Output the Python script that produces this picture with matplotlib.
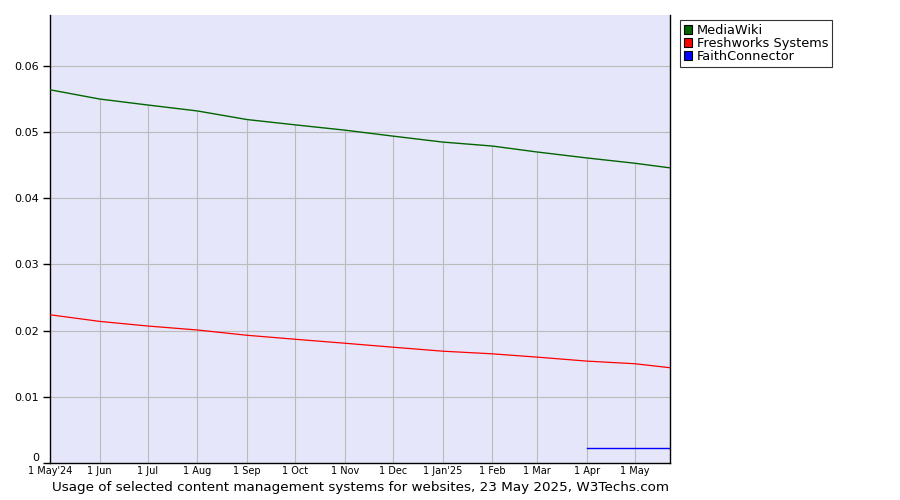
import numpy as np
import pandas as pd
import matplotlib
matplotlib.use("Agg")
import matplotlib.pyplot as plt
import matplotlib.transforms as mtransforms
from matplotlib.patches import Patch

# month starts from May 2024 to May 2025, plus the last day (23 May 2025)
dates = pd.to_datetime(["2024-05-01", "2024-06-01", "2024-07-01", "2024-08-01", "2024-09-01",
                        "2024-10-01", "2024-11-01", "2024-12-01", "2025-01-01", "2025-02-01",
                        "2025-03-01", "2025-04-01", "2025-05-01", "2025-05-23"])
mediawiki = [0.0564, 0.0550, 0.0541, 0.0532, 0.0519, 0.0511, 0.0503,
             0.0494, 0.0485, 0.0479, 0.0470, 0.0461, 0.0453, 0.0446]
freshworks = [0.0224, 0.0214, 0.0207, 0.0201, 0.0193, 0.0187, 0.0181,
              0.0175, 0.0169, 0.0165, 0.0160, 0.0154, 0.0150, 0.0144]
faith_dates = pd.to_datetime(["2025-04-01", "2025-05-01", "2025-05-23"])
faithconnector = [0.0023, 0.0023, 0.0023]

xlabels = ["1 May'24", "1 Jun", "1 Jul", "1 Aug", "1 Sep", "1 Oct", "1 Nov",
           "1 Dec", "1 Jan'25", "1 Feb", "1 Mar", "1 Apr", "1 May"]
yticks = [0, 0.01, 0.02, 0.03, 0.04, 0.05, 0.06]
ylabels = ["0", "0.01", "0.02", "0.03", "0.04", "0.05", "0.06"]

fig = plt.figure(figsize=(9, 5), dpi=100)
ax = fig.add_axes([50/900, 37/500, 620/900, 448/500])
ax.set_facecolor("#e6e6fa")

# horizontal grid across the whole width
for v in yticks[1:]:
    ax.axhline(v, color="#bbbbbb", lw=0.8, zorder=1)
# vertical grid only up to the top series
ax.vlines(dates[1:13], 0, mediawiki[1:13], color="#bbbbbb", lw=0.8, zorder=1)

ax.plot(dates, mediawiki, color="#006400", lw=1, zorder=3)
ax.plot(dates, freshworks, color="#ff0000", lw=0.9, zorder=3)
ax.plot(faith_dates, faithconnector, color="#0000ff", lw=1, zorder=3)

ax.set_xlim(dates[0], dates[-1])
ax.set_ylim(0, 0.0677)
ax.set_xticks(dates[:13])
ax.set_xticklabels(xlabels, fontsize=7)
ax.tick_params(axis="x", length=0, pad=2)
ax.set_yticks(yticks)
ax.set_yticklabels(ylabels, fontsize=8)
ax.tick_params(axis="y", length=5, width=1, direction="out", pad=3)
# the "0" sits a bit higher than the others
lab0 = ax.get_yticklabels()[0]
lab0.set_transform(lab0.get_transform() + mtransforms.ScaledTranslation(0, 4/72, fig.dpi_scale_trans))

ax.spines["top"].set_visible(False)
for s in ["left", "bottom", "right"]:
    ax.spines[s].set_color("black")
    ax.spines[s].set_linewidth(1)

handles = [Patch(facecolor="#006400", edgecolor="black", lw=0.8),
           Patch(facecolor="#ff0000", edgecolor="black", lw=0.8),
           Patch(facecolor="#0000ff", edgecolor="black", lw=0.8)]
leg = fig.legend(handles, ["MediaWiki", "Freshworks Systems", "FaithConnector"],
                 loc="upper left", bbox_to_anchor=(680/900, 1 - 20/500),
                 fontsize=9.3, frameon=True, fancybox=False, edgecolor="black",
                 handlelength=0.6, handleheight=0.7, handletextpad=0.4,
                 labelspacing=0.0, borderpad=0.3, borderaxespad=0)
leg.get_frame().set_linewidth(0.8)

fig.text(360/900, 1 - 488/500,
         "Usage of selected content management systems for websites, 23 May 2025, W3Techs.com",
         ha="center", va="center", fontsize=9.7)

fig.savefig("out.png", dpi=100)
